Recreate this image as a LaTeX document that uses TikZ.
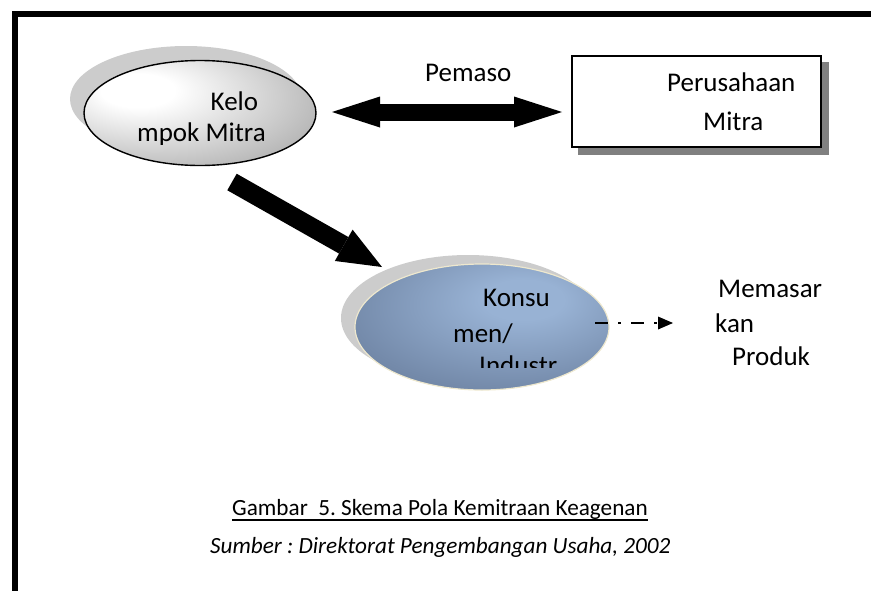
\documentclass[tikz,border=0pt]{standalone}
\usepackage{fontspec}
\setmainfont{Carlito}
\usetikzlibrary{arrows.meta,shapes.geometric}
\frenchspacing

\definecolor{softshadow}{RGB}{204,204,204}
\definecolor{boxshadow}{RGB}{128,128,128}
\definecolor{keloedge}{RGB}{152,152,152}
\definecolor{keloout}{RGB}{135,135,135}
\definecolor{konsin}{RGB}{152,178,212}
\definecolor{konsmid}{RGB}{116,138,170}
\definecolor{konsout}{RGB}{84,102,130}
\definecolor{konsrim}{RGB}{238,232,206}

% off-centre radial fills for the two ellipses
\pgfdeclareradialshading{kelofill}{\pgfpoint{-15bp}{12bp}}{%
  color(0bp)=(white); color(8bp)=(white); color(47bp)=(keloedge); color(75bp)=(keloout)}
\pgfdeclareradialshading{konsfill}{\pgfpoint{9bp}{12bp}}{%
  color(0bp)=(konsin); color(8bp)=(konsin); color(32bp)=(konsmid); color(56bp)=(konsout); color(80bp)=(konsout)}

\tikzset{
  label27/.style={inner sep=0pt, anchor=base west, font=\fontsize{27pt}{32pt}\selectfont},
  label23/.style={inner sep=0pt, anchor=base west, font=\fontsize{23.2pt}{28pt}\selectfont},
  ovalshadow/.style={ellipse, fill=softshadow, inner sep=0pt},
  blockarrow/.style={draw=black, line width=#1},
}

\begin{document}
\begin{tikzpicture}[x=1pt, y=-1pt]
\useasboundingbox (0,0) rectangle (871,590);

% outer frame (left and top edges)
\draw[line width=5.5pt, line join=miter] (15,592) -- (15,14) -- (873,14);

% --- Kelompok Mitra ---
\node[ovalshadow, minimum width=232pt, minimum height=106pt] (kelsh) at (186,99) {};
\node[ellipse, draw=black, line width=1.4pt, shading=kelofill, inner sep=0pt,
      minimum width=232pt, minimum height=105pt] (kel) at (200,113) {};
\begin{scope}
  \clip (0,0) rectangle (871,144);
  \node[label27] (keltop) at (210.5,110) {Kelo};
  \node[label27] (kelbot) at (137,141.5) {mpok Mitra};
\end{scope}

% --- Perusahaan Mitra ---
\node[rectangle, fill=boxshadow, inner sep=0pt, minimum width=251pt, minimum height=93pt] (perush) at (703.5,108.5) {};
\node[rectangle, draw=black, fill=white, line width=2pt, inner sep=0pt,
      minimum width=249pt, minimum height=91pt] (peru) at (696.5,101.5) {};
\node[label27] (perutop) at (667,91.5) {Perusahaan};
\node[label27] (perubot) at (703,130.5) {Mitra};

% --- Pemasok arrow ---
\node[label27] (pemaso) at (425,81.5) {Pemaso};
\coordinate (pmleft) at (332,112);
\coordinate (pmright) at (562,112);
\draw[blockarrow=17pt,
      {Triangle[length=48pt, width=31pt, line width=0pt]}-{Triangle[length=48pt, width=31pt, line width=0pt]}]
      (pmleft) -- (pmright);

% --- flow from Kelompok Mitra down to Konsumen ---
\coordinate (flowtail) at (232,182);
\coordinate (flowtip) at (382,267);
\draw[blockarrow=19pt, -{Triangle[length=44pt, width=36pt, line width=0pt]}] (flowtail) -- (flowtip);

% --- Konsumen / Industri ---
\node[ovalshadow, minimum width=254pt, minimum height=126pt] (konssh) at (468,318) {};
\node[ellipse, draw=konsrim, line width=1.2pt, shading=konsfill, inner sep=0pt,
      minimum width=254pt, minimum height=126pt] (kons) at (482,327) {};
\begin{scope}
  \clip (0,0) rectangle (871,367.5);
  \node[label27] (konsa) at (483,306.5) {Konsu};
  \node[label27] (konsb) at (453,342.5) {men/};
  \node[label27] (konsc) at (479,374) {Industr};
\end{scope}

% --- marketing link ---
\coordinate (mkstart) at (595,323);
\coordinate (mkend) at (673,323);
\draw[line width=2.8pt, dash pattern=on 13pt off 10pt on 3pt off 10pt,
      -{Triangle[length=15pt, width=13pt, line width=0pt]}] (mkstart) -- (mkend);
\node[label27] (mka) at (718,297) {Memasar};
\node[label27] (mkb) at (715,332) {kan};
\node[label27] (mkc) at (732,365) {Produk};

% --- caption ---
\node[label23] (cap) at (232,515) {Gambar\ \ 5. Skema Pola Kemitraan Keagenan};
\draw[line width=1.4pt] ([yshift=-5pt]cap.base west) -- ([yshift=-5pt]cap.base east);
\node[label23, font=\fontsize{23.2pt}{28pt}\selectfont\itshape] (src) at (210,553) {Sumber : Direktorat Pengembangan Usaha, 2002};
\end{tikzpicture}
\end{document}
